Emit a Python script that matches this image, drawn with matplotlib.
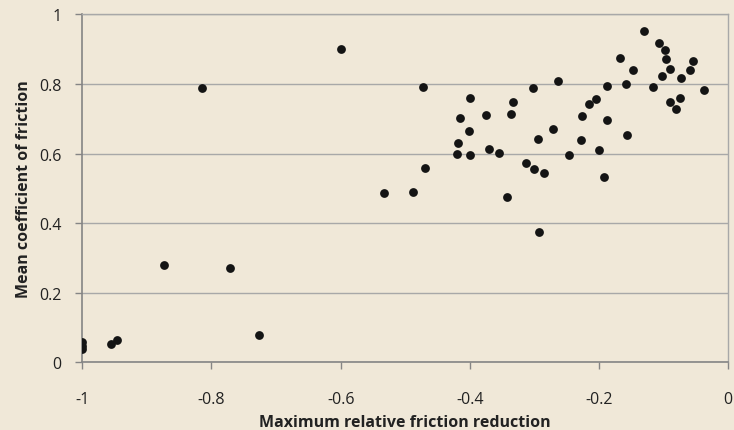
import matplotlib

matplotlib.use("Agg")
import matplotlib.pyplot as plt

friction_reduction = [
    -1.0, -1.0, -1.0, -0.955, -0.947, -0.873, -0.814, -0.772, -0.727,
    -0.600, -0.533, -0.488, -0.473, -0.470,
    -0.420, -0.418, -0.416, -0.402, -0.400, -0.400, -0.375, -0.371, -0.355,
    -0.343, -0.337, -0.333, -0.313, -0.303, -0.300, -0.294, -0.293, -0.285,
    -0.271, -0.263, -0.246, -0.228, -0.226, -0.215, -0.205, -0.200, -0.193,
    -0.188, -0.187, -0.167, -0.158, -0.156, -0.148, -0.130, -0.117, -0.107,
    -0.102, -0.098, -0.096, -0.090, -0.090, -0.081, -0.074, -0.073, -0.059,
    -0.055, -0.037,
]
mean_cof = [
    0.058, 0.047, 0.037, 0.053, 0.065, 0.280, 0.787, 0.272, 0.078,
    0.900, 0.487, 0.488, 0.790, 0.558,
    0.600, 0.630, 0.701, 0.664, 0.759, 0.596, 0.711, 0.614, 0.602,
    0.475, 0.713, 0.747, 0.574, 0.788, 0.555, 0.641, 0.374, 0.545,
    0.670, 0.808, 0.596, 0.638, 0.707, 0.742, 0.757, 0.610, 0.533,
    0.793, 0.696, 0.874, 0.801, 0.652, 0.840, 0.953, 0.791, 0.917,
    0.822, 0.898, 0.872, 0.843, 0.748, 0.728, 0.759, 0.816, 0.840,
    0.865, 0.782,
]
x_ticks = [-1, -0.8, -0.6, -0.4, -0.2, 0]
x_labels = ["-1", "-0.8", "-0.6", "-0.4", "-0.2", "0"]
y_ticks = [0, 0.2, 0.4, 0.6, 0.8, 1]
y_labels = ["0", "0.2", "0.4", "0.6", "0.8", "1"]

bg = "#F0E8D8"
plt.rcParams["font.family"] = ["Open Sans", "DejaVu Sans"]

fig = plt.figure(figsize=(7.34, 4.31), dpi=100, facecolor=bg)
ax = fig.add_axes([0.1121, 0.157, 0.8801, 0.8075], facecolor=bg)

ax.scatter(friction_reduction, mean_cof, s=40, color="#141414", zorder=3,
           linewidths=0)

ax.set_xlim(-1, 0)
ax.set_ylim(0, 1)
ax.set_xticks(x_ticks)
ax.set_xticklabels(x_labels)
ax.set_yticks(y_ticks)
ax.set_yticklabels(y_labels)
ax.yaxis.grid(True, color="#A8A8A8", linewidth=1)
ax.set_axisbelow(True)

for side in ("top", "right"):
    ax.spines[side].set_color("#A8A8A8")
    ax.spines[side].set_linewidth(1)
for side in ("left", "bottom"):
    ax.spines[side].set_color("#858585")
    ax.spines[side].set_linewidth(1.2)

ax.tick_params(axis="both", direction="out", length=5, width=1,
               color="#858585", labelsize=11.5, labelcolor="#222222")
ax.tick_params(axis="x", pad=16)
ax.tick_params(axis="y", pad=10)

ax.set_xlabel("Maximum relative friction reduction", fontsize=11.5,
              fontweight="bold", color="#222222", labelpad=5)
ax.set_ylabel("Mean coefficient of friction", fontsize=11.5,
              fontweight="bold", color="#222222", labelpad=5)

fig.savefig("out.png", dpi=100, facecolor=bg)
